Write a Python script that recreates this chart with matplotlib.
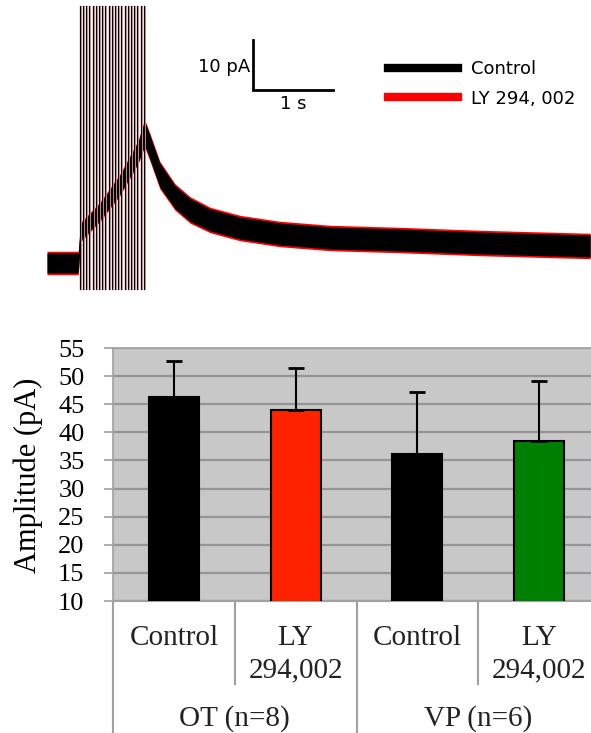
import matplotlib
matplotlib.use("Agg")
import matplotlib.pyplot as plt
from matplotlib.lines import Line2D

# --- trace panel data (time in s, current in pA) ---
trace_t = [0.0, 0.39, 0.42, 0.66, 0.91, 1.14, 1.22, 1.29, 1.41, 1.60, 1.79,
           2.04, 2.41, 2.91, 3.54, 4.41, 5.41, 6.79]
trace_mid = [-0.2, -0.2, 6.0, 10.0, 15.4, 22.0, 25.8, 22.8, 17.4, 13.0, 10.4,
             8.4, 6.8, 5.6, 4.8, 4.4, 3.8, 3.2]
ctrl_half = [2.0, 2.0, 1.6, 1.6, 1.8, 2.0, 2.4, 2.4, 2.4, 2.3, 2.3,
             2.2, 2.2, 2.2, 2.2, 2.2, 2.2, 2.2]
ly_extra = 0.35
stim_times = [0.41, 0.45, 0.49, 0.53, 0.57, 0.61, 0.65, 0.69, 0.73, 0.77, 0.81,
              0.85, 0.89, 0.93, 0.97, 1.01, 1.05, 1.09, 1.13, 1.17, 1.21]

# --- bar chart data ---
conditions = ["Control", "LY\n294,002", "Control", "LY\n294,002"]
groups = ["OT (n=8)", "VP (n=6)"]
amplitude = [46.3, 44.0, 36.2, 38.5]
amplitude_err = [6.4, 7.5, 10.9, 10.6]
bar_colors = ["black", "#ff2200", "black", "#008000"]

W, H = 591, 733
fig = plt.figure(figsize=(W / 100, H / 100), dpi=100)

# ---------------- top: recording ----------------
ax1 = fig.add_axes([0, 1 - 300 / H, 1, 300 / H])
ax1.set_xlim(-0.5875, 6.8)
ax1.set_ylim(-7.6, 52.4)
ax1.axis("off")

lo_ly = [m - h - ly_extra for m, h in zip(trace_mid, ctrl_half)]
hi_ly = [m + h + ly_extra for m, h in zip(trace_mid, ctrl_half)]
lo_c = [m - h for m, h in zip(trace_mid, ctrl_half)]
hi_c = [m + h for m, h in zip(trace_mid, ctrl_half)]
ax1.fill_between(trace_t, lo_ly, hi_ly, color="red", lw=0, zorder=2)
ax1.fill_between(trace_t, lo_c, hi_c, color="black", lw=0, zorder=3)

for s in stim_times:
    ax1.plot([s + 0.012, s + 0.012], [-5.4, 51.2], color="#e49a9a", lw=0.7, zorder=4)
    ax1.plot([s, s], [-5.4, 51.2], color="black", lw=0.9, zorder=5)

# scale bar
ax1.plot([2.575, 2.575, 3.575], [44.4, 34.4, 34.4], color="black", lw=2, solid_joinstyle="miter")
ax1.text(2.54, 39.0, "10 pA", ha="right", va="center", fontsize=13, family="DejaVu Sans")
ax1.text(3.075, 33.4, "1 s", ha="center", va="top", fontsize=13, family="DejaVu Sans")

handles = [Line2D([], [], color="black", lw=6), Line2D([], [], color="red", lw=6)]
ax1.legend(handles, ["Control", "LY 294, 002"], loc="upper left",
           bbox_to_anchor=(388 / W, 1 - 60 / 300), frameon=False,
           prop={"family": "DejaVu Sans", "size": 13},
           handlelength=3.9, labelspacing=0.65, handletextpad=0.7, borderpad=0,
           borderaxespad=0)

# ---------------- bottom: bar chart ----------------
left, right, top, bottom = 113, 600, 348, 601
ax2 = fig.add_axes([left / W, 1 - bottom / H, (right - left) / W, (bottom - top) / H])
ax2.set_facecolor("#c8c8c8")
x = range(len(amplitude))
ax2.bar(x, amplitude, width=0.41, bottom=0, color=bar_colors, edgecolor="black",
        linewidth=1.5, zorder=3)
ax2.errorbar(x, amplitude, yerr=[[0] * 4, amplitude_err], fmt="none", ecolor="black",
             elinewidth=1.5, capsize=6, capthick=2, zorder=4)
ax2.set_xlim(-0.5, 3.5)
ax2.set_ylim(10, 55)
ax2.set_yticks(range(10, 56, 5))
ax2.yaxis.grid(True, color="#959595", lw=1.6, zorder=1)
ax2.set_axisbelow(True)
ax2.set_xticks([])
for sp in ax2.spines.values():
    sp.set_color("#a0a0a0")
    sp.set_linewidth(1.2)
ax2.spines["bottom"].set_visible(False)
ax2.tick_params(axis="y", direction="out", length=6.5, width=1.2, color="#a0a0a0",
                labelsize=19, pad=14)
for lab in ax2.get_yticklabels():
    lab.set_family("Liberation Serif")
ax2.set_ylabel("Amplitude (pA)", fontsize=22, family="Liberation Serif")
ax2.yaxis.set_label_coords(-0.144, 0.498)

trans = ax2.get_xaxis_transform()
ph = bottom - top
ax2.plot([-0.5, 3.5], [0, 0], color="#a0a0a0", lw=1.5, transform=trans, clip_on=False)
for xv in [-0.5, 1.5, 3.5]:
    ax2.plot([xv, xv], [0, -140 / ph], color="#a0a0a0", lw=1.5, transform=trans, clip_on=False)
for xv in [0.5, 2.5]:
    ax2.plot([xv, xv], [0, -(684 - bottom) / ph], color="#a0a0a0", lw=1.5,
             transform=trans, clip_on=False)
for i, c in enumerate(conditions):
    ax2.text(i, -(645 - bottom) / ph, c.split("\n")[0], transform=trans, ha="center",
             va="baseline", fontsize=21, family="Liberation Serif", color="#222222")
    if "\n" in c:
        ax2.text(i, -(677 - bottom) / ph, c.split("\n")[1], transform=trans, ha="center",
                 va="baseline", fontsize=21, family="Liberation Serif", color="#222222")
for g, name in enumerate(groups):
    ax2.text(0.5 + 2 * g, -(726 - bottom) / ph, name, transform=trans, ha="center",
             va="baseline", fontsize=21, family="Liberation Serif", color="#222222")

fig.savefig("out.png", dpi=100)
